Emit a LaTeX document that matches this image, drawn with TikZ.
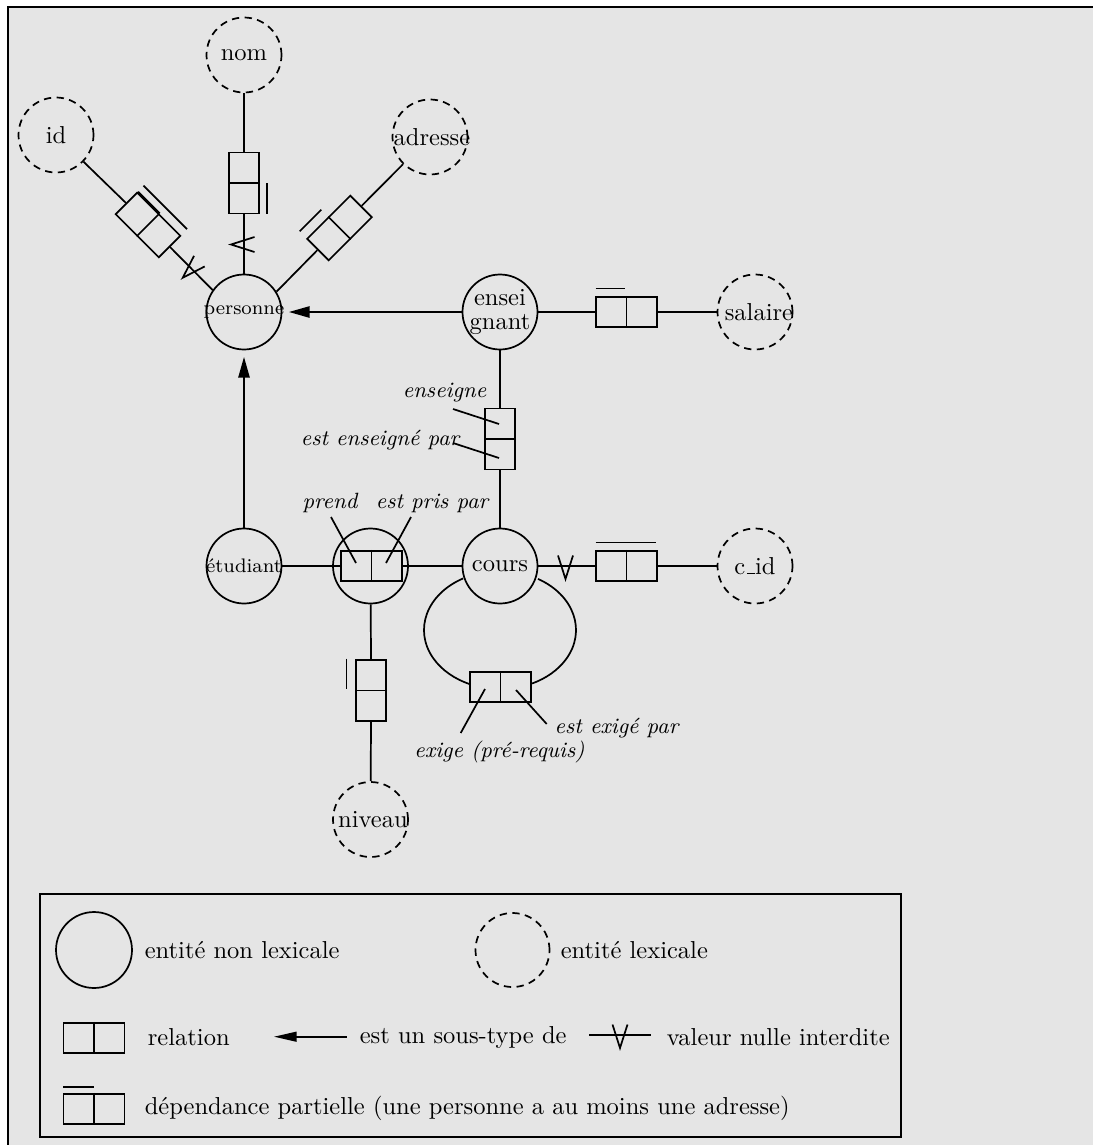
\documentclass[tikz,border=0pt]{standalone}
\usetikzlibrary{arrows.meta}
\definecolor{bggray}{RGB}{229,229,229}
\tikzset{
  ent/.style={circle, draw, minimum size=30.6pt, inner sep=0pt},
  lex/.style={ent, dash pattern=on 3pt off 2.2pt},
  relbox/.style={draw, rectangle, minimum width=24.9pt, minimum height=12.4pt, inner sep=0pt},
  lbl/.style={font=\small\itshape, inner sep=0pt},
  txt/.style={inner sep=0pt, anchor=west},
  subtype/.style={-{Triangle[length=8.4pt,width=4.6pt]}, shorten >=2.7pt},
}
\newcommand{\ormbox}[3]{\node[relbox, rotate=#3] (#1) at (#2) {};\draw (#1.north) -- (#1.south);}
\newcommand{\ormbar}[5]{\draw[shift={(#1)}, rotate=#2] (#3,#5) -- (#4,#5);}
\newcommand{\ormnull}[2]{\draw[shift={(#1)}, rotate=#2] (-7.5,-10.5) -- (0,13) -- (7.5,-10.5);}
\begin{document}
\begin{tikzpicture}[x=0.408pt, y=-0.408pt, line width=0.7pt]
\useasboundingbox (0,0) rectangle (1093,1145);
\fill[bggray] (8,7) rectangle (1093,1145);
\draw (8,1145) -- (8,7) -- (1093,7);

% entities
\node[ent, label={[font=\footnotesize]center:personne}] (pers) at (244,312) {};
\node[lex, label={center:nom}] (nom) at (244,55) {};
\node[lex, label={center:id}] (id) at (56,135) {};
\node[lex, label={[xshift=0.8pt]center:adresse}] (adr) at (430,137) {};
\node[ent, label={[align=center]center:{ensei\\[-2.5pt]gnant}}] (ens) at (500,312) {};
\node[lex, label={[xshift=1.6pt]center:salaire}] (sal) at (755,312) {};
\node[ent, label={center:cours}] (cours) at (500,566) {};
\node[lex, label={center:{c\kern.06em\rule{0.32em}{0.6pt}\kern.02em id}}] (cid) at (755,566) {};
\node[ent, label={[font=\footnotesize]center:étudiant}] (etu) at (244,566) {};
\node[ent] (pr) at (370.5,566) {};
\node[lex, label={[xshift=1pt]center:niveau}] (niv) at (370.5,819.5) {};

% relation boxes
\ormbox{nomb}{244,183}{-90}
\ormbar{244,183}{-90}{0}{30.5}{-23}
\ormbox{idb}{148,225}{-45}
\ormbar{148,225}{-45}{-31}{30.5}{-24.6}
\ormbar{148,225}{-45}{-30.5}{0}{-16.6}
\ormbox{adrb}{339.5,228}{45}
\ormbar{339.5,228}{45}{-30.5}{0}{-25.8}
\ormbox{salb}{626.5,312}{0}
\ormbar{626.5,312}{0}{-31}{-2}{-23.5}
\ormbox{cidb}{626.5,566}{0}
\ormbar{626.5,566}{0}{-31}{29}{-23.5}
\ormbox{ensb}{500,439}{-90}
\ormbox{prb}{371.5,566}{0}
\ormbox{nivb}{371,690.5}{-90}
\ormbar{371,690.5}{-90}{-32}{-2}{24.5}
\ormbox{exb}{500.5,687}{0}

% connectors
\draw (id) -- (idb.west);
\draw (idb.east) -- (pers.145);
\draw (nom) -- (nomb.west);
\draw (nomb.east) -- (pers);
\draw (adr) -- (adrb.east);
\draw (adrb.west) -- (pers.32.5);
\draw (ens) -- (salb.west);
\draw (salb.east) -- (sal);
\draw (ens) -- (ensb.west);
\draw (ensb.east) -- (cours);
\draw (etu) -- (prb.west);
\draw (prb.east) -- (cours);
\draw (pr) -- (nivb.west);
\draw (nivb.east) -- (niv);
\draw (cours) -- (cidb.west);
\draw (cidb.east) -- (cid);
\draw[subtype] (ens) -- (pers);
\draw[subtype] (etu) -- (pers);

% loop cours - exige
\coordinate (lc) at (500,630);
\draw ([shift={(241:76 and 59)}]lc) arc[start angle=241, end angle=113, x radius=76, y radius=59];
\draw ([shift={(-60:76 and 59)}]lc) arc[start angle=-60, end angle=65, x radius=76, y radius=59];

% null-value marks
\ormnull{191.9,268.6}{-45}
\ormnull{244,244.5}{-90}
\ormnull{565.5,566}{0}

% role labels
\node[lbl] (l1) at (444.5,393) {enseigne};
\coordinate (l1a) at (453,409); \coordinate (l1b) at (499,424);
\draw (l1a) -- (l1b);
\node[lbl] (l2) at (380,440) {est enseigné par};
\coordinate (l2a) at (453,443); \coordinate (l2b) at (499,458);
\draw (l2a) -- (l2b);
\node[lbl] (l3) at (330,503) {prend};
\coordinate (l3a) at (331,517); \coordinate (l3b) at (356,563);
\draw (l3a) -- (l3b);
\node[lbl] (l4) at (432,503) {est pris par};
\coordinate (l4a) at (411,517); \coordinate (l4b) at (386,563);
\draw (l4a) -- (l4b);
\node[lbl] (l5) at (499.5,752) {exige (pré-requis)};
\coordinate (l5a) at (460.7,733); \coordinate (l5b) at (485,689);
\draw (l5a) -- (l5b);
\node[lbl] (l6) at (616.5,728) {est exigé par};
\coordinate (l6a) at (546.7,724); \coordinate (l6b) at (516,690);
\draw (l6a) -- (l6b);

% legend
\draw (40,894) rectangle (901,1137);
\node[ent, minimum size=31pt] (lg1) at (94,950) {};
\node[txt] (lt1) at (144,950) {entité non lexicale};
\node[lex, minimum size=30.2pt] (lg2) at (512.5,950) {};
\node[txt] (lt2) at (560,950) {entité lexicale};
\ormbox{lgb1}{94,1038}{0}
\node[txt] (lt3) at (147,1037) {relation};
\coordinate (la1) at (346.7,1036.7); \coordinate (la2) at (274,1036.7);
\draw[-{Triangle[length=9.2pt,width=4pt]}] (la1) -- (la2);
\node[txt] (lt4) at (359,1037) {est un sous-type de};
\coordinate (ln1) at (589,1035); \coordinate (ln2) at (651,1035);
\draw (ln1) -- (ln2);
\ormnull{620,1035}{0}
\node[txt] (lt5) at (666,1037) {valeur nulle interdite};
\ormbox{lgb2}{94,1109}{0}
\ormbar{94,1109}{0}{-31}{0}{-22}
\node[txt] (lt6) at (144,1108) {dépendance partielle (une personne a au moins une adresse)};
\end{tikzpicture}
\end{document}
